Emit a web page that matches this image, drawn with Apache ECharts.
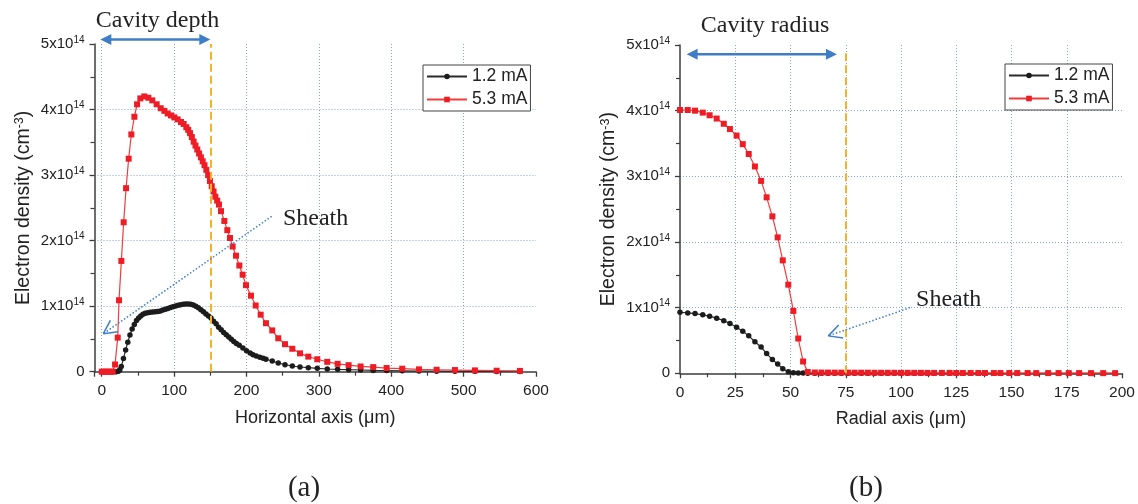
<!DOCTYPE html>
<html>
<head>
<meta charset="utf-8">
<script src="https://cdn.jsdelivr.net/npm/echarts@6/dist/echarts.min.js"></script>
<style>
  html, body { margin: 0; padding: 0; background: #fff; }
  #chart { width: 1138px; height: 504px; }
</style>
</head>
<body>
<div id="chart"></div>
<script>
// Electron density profiles, values in units of 1e14 cm^-3

// (a) along the horizontal axis (µm)
const axialX_53 = [0, 3, 6, 9, 12, 15, 18.4, 22.1, 23.9, 27.1, 30.3, 33.6, 37.2, 40.9, 45.1, 48.8,
  53.3, 58.8, 64.4, 69.9, 75.9, 81.5, 86.5, 91.1, 95.7, 100.3, 104.9, 109.5, 113.2, 116.9,
  119.5, 122, 124.5, 127, 129.5, 132, 134.5, 137, 139.5, 142, 144.5, 147, 149.5, 152, 154.5, 157, 159.5, 162,
  164.8, 169.4, 173.5, 177.2, 180.9, 185.5, 190.1, 194.7, 199.3, 206.2, 212.7, 219.6, 226.9, 235.6, 243.9,
  253.2, 263.3, 273.9, 285.4, 297.8, 311.6, 325.9, 341.1, 357.7, 375.1, 393.6, 415.2, 438.3, 462.7,
  488, 515.6, 545.6, 577.8];
const axialN_53 = [0, 0, 0, 0, 0, 0, 0.11, 0.52, 1.09, 1.69, 2.28, 2.80, 3.25, 3.62, 3.89, 4.08,
  4.17, 4.20, 4.18, 4.14, 4.08, 4.02, 3.98, 3.94, 3.91, 3.88, 3.85, 3.81, 3.78, 3.73,
  3.69, 3.64, 3.58, 3.51, 3.45, 3.39, 3.33, 3.27, 3.21, 3.15, 3.08, 3.00, 2.91, 2.83, 2.75, 2.67, 2.61, 2.55,
  2.45, 2.30, 2.16, 2.04, 1.91, 1.77, 1.62, 1.48, 1.32, 1.16, 1.01, 0.87, 0.74, 0.63, 0.51,
  0.42, 0.35, 0.28, 0.23, 0.19, 0.15, 0.12, 0.10, 0.08, 0.07, 0.056, 0.046, 0.036, 0.03,
  0.025, 0.02, 0.015, 0.012];

const axialX_12 = [0, 5, 10, 15, 20, 23, 25, 27, 30, 33, 36, 39, 42, 45, 48,
  51, 54, 57, 60, 63.5, 67, 70.5, 74, 77.5, 81, 84.5, 88, 91.5, 95, 98.5, 102, 105.5, 109, 112.5, 116,
  119.5, 123, 126.5, 130, 133.5, 137, 140.5, 144, 147.5, 151, 154.5, 158, 161.5, 165, 168.5, 172, 175.5,
  179, 182.5, 186, 190, 195, 200, 205, 209, 213.5, 218.5, 223, 226.9, 235.6,
  243.9, 253.2, 263.3, 273.9, 285.4, 297.8, 311.6, 325.9, 341.1, 357.7,
  375.1, 393.6, 415.2, 438.3, 462.7, 488, 515.6, 545.6, 577.8];
const axialN_12 = [0, 0, 0, 0, 0, 0.005, 0.03, 0.08, 0.2, 0.33, 0.45, 0.56, 0.65, 0.72, 0.78,
  0.82, 0.85, 0.875, 0.89, 0.9, 0.906, 0.91, 0.914, 0.92, 0.928, 0.94, 0.952, 0.965, 0.978, 0.99, 1.003, 1.013, 1.022, 1.03, 1.034,
  1.034, 1.028, 1.018, 1.0, 0.975, 0.947, 0.914, 0.882, 0.85, 0.82, 0.77, 0.73, 0.68, 0.64, 0.60, 0.565, 0.53,
  0.495, 0.46, 0.43, 0.405, 0.36, 0.32, 0.285, 0.26, 0.24, 0.22, 0.205, 0.19, 0.163,
  0.133, 0.107, 0.087, 0.072, 0.061, 0.051, 0.041, 0.036, 0.031, 0.026,
  0.02, 0.017, 0.013, 0.01, 0.008, 0.006, 0.005, 0.004, 0.003];

// (b) along the radial axis (µm), both currents on the same mesh
const radialX = [0, 3.5, 6.8, 10.3, 13.4, 16.6, 19.8, 22.6, 25.6, 28.4, 31.1, 33.9, 36.7, 39.2, 41.8, 44.2,
  46.5, 49.0, 51.3, 53.5, 55.7, 57.8, 61, 64, 67, 70, 73, 76, 79, 82, 85, 88, 91, 94, 97, 100, 103, 106,
  109, 112, 115, 118.5, 122, 125, 128, 131.5, 135, 138, 142, 145, 149, 152.6, 157.3, 161.2, 166.6,
  171.3, 175.9, 180.6, 186, 191.5, 196.9];
const radialN_53 = [4.01, 4.01, 4.00, 3.97, 3.93, 3.88, 3.80, 3.72, 3.62, 3.49, 3.34, 3.15, 2.93, 2.68, 2.39, 2.07,
  1.72, 1.35, 0.95, 0.53, 0.18, 0.02, 0.012, 0.011, 0.011, 0.01, 0.01, 0.01, 0.009, 0.009, 0.009, 0.008, 0.008, 0.008,
  0.008, 0.007, 0.007, 0.007, 0.007, 0.006, 0.006, 0.006, 0.006, 0.005, 0.005, 0.005, 0.005, 0.005, 0.004, 0.004,
  0.004, 0.004, 0.004, 0.003, 0.003, 0.003, 0.003, 0.003, 0.002, 0.002, 0.002];
const radialN_12 = [0.93, 0.92, 0.91, 0.89, 0.87, 0.84, 0.80, 0.76, 0.70, 0.64, 0.57, 0.48, 0.40, 0.30, 0.21, 0.14,
  0.07, 0.025, 0.01, 0.005, 0.003, 0.002, 0, 0, 0, 0, 0, 0, 0, 0, 0, 0, 0, 0,
  0, 0, 0, 0, 0, 0, 0, 0, 0, 0, 0, 0, 0, 0, 0, 0,
  0, 0, 0, 0, 0, 0, 0, 0, 0, 0, 0];

const seriesNames = ['1.2 mA', '5.3 mA'];
const densityExponent = 14;

// Annotations, in data coordinates of each panel
const cavityDepthSpan = [-2, 150];
const cavityDepthLevel = 5.07;
const cavityRadiusSpan = [3, 71];
const cavityRadiusLevel = 4.86;
const cavityDepthEdge = 150;
const cavityRadiusEdge = 75;

const pairs = (xs, ys) => xs.map((x, i) => [x, ys[i]]);

const SANS = '"Liberation Sans", Arial, sans-serif';
const SERIF = '"Liberation Serif", "Times New Roman", serif';
const AXIS_COLOR = '#3c3c3c';
const GRID_COLOR = '#8ba3d3';
const ARROW_BLUE = '#3f7dc8';
const EDGE_GOLD = '#f5b324';

function axisStyle(extra) {
  return Object.assign({
    type: 'value',
    nameLocation: 'middle',
    nameTextStyle: {
      fontFamily: SANS, fontSize: 18, color: '#222',
      rich: { s: { fontFamily: SANS, fontSize: 12, verticalAlign: 'top', lineHeight: 13, color: '#222' } }
    },
    axisLine: { show: true, onZero: false, lineStyle: { color: AXIS_COLOR, width: 1.5 } },
    axisTick: { show: true, inside: false, length: 5, lineStyle: { color: AXIS_COLOR, width: 1.3 } },
    minorTick: { show: true, splitNumber: 2, length: 4, lineStyle: { color: AXIS_COLOR, width: 1.2 } },
    splitLine: { show: true, showMinLine: false, showMaxLine: false,
      lineStyle: { color: GRID_COLOR, type: [1, 2], width: 1 } },
    minorSplitLine: { show: false },
    axisLabel: { fontFamily: SANS, fontSize: 15.5, color: '#222', margin: 11 }
  }, extra);
}

function densityAxis(gridIndex) {
  return axisStyle({
    gridIndex,
    min: 0, max: 5, interval: 1,
    name: 'Electron density (cm{s|-3})',
    nameGap: 61,
    nameTextStyle: {
      fontFamily: SANS, fontSize: 19.5, color: '#222',
      rich: { s: { fontFamily: SANS, fontSize: 12.5, verticalAlign: 'top', lineHeight: 13, color: '#222' } }
    },
    axisLabel: {
      fontFamily: SANS, fontSize: 15, color: '#222', margin: 10, lineHeight: 18,
      formatter: v => (v === 0 ? '0' : v + 'x10{s|' + densityExponent + '}'),
      rich: { s: { fontFamily: SANS, fontSize: 10, verticalAlign: 'top', lineHeight: 10, color: '#222' } }
    }
  });
}

function lineSeries(name, xi, yi, data, isHigh) {
  return {
    name, type: 'line', xAxisIndex: xi, yAxisIndex: yi, data,
    symbol: isHigh ? 'rect' : 'circle',
    symbolSize: isHigh ? 6 : 5.5,
    showSymbol: true,
    showAllSymbol: true,
    clip: false,
    itemStyle: { color: isHigh ? '#ee1d25' : '#1c1c1c' },
    lineStyle: { color: isHigh ? '#f23b3b' : '#2b2b2b', width: 1.2 },
    emphasis: { disabled: true },
    z: isHigh ? 3 : 2
  };
}

function edgeLine(x, top) {
  return {
    silent: true,
    symbol: ['none', 'none'],
    label: { show: false },
    lineStyle: { color: EDGE_GOLD, type: [8, 4], width: 2 },
    data: [[{ coord: [x, 0] }, { coord: [x, top] }]],
    z: 10
  };
}

const legendCommon = {
  orient: 'vertical',
  data: seriesNames,
  itemWidth: 40,
  itemHeight: 7,
  itemGap: 4,
  padding: [2, 3, 2, 3],
  borderColor: '#444',
  borderWidth: 1,
  borderRadius: 0,
  backgroundColor: '#fff',
  selectedMode: false,
  textStyle: { fontFamily: SANS, fontSize: 17.5, color: '#222', lineHeight: 19 }
};

const chart = echarts.init(document.getElementById('chart'), null, { renderer: 'canvas' });

chart.setOption({
  animation: false,
  backgroundColor: '#fff',
  textStyle: { fontFamily: SANS },
  grid: [
    { left: 94.5, right: 602, top: 44, bottom: 132.3, outerBoundsMode: 'none' },
    { left: 680, right: 16, top: 45, bottom: 130.7, outerBoundsMode: 'none' }
  ],
  xAxis: [
    axisStyle({
      gridIndex: 0, min: -10, max: 600, minInterval: 100, maxInterval: 100,
      name: 'Horizontal axis (\u03bcm)', nameGap: 37,
      axisLabel: { fontFamily: SANS, fontSize: 15.5, color: '#222', margin: 11,
        formatter: v => (v < 0 ? '' : String(v)) }
    }),
    axisStyle({
      gridIndex: 1, min: 0, max: 200, interval: 25,
      name: 'Radial axis (\u03bcm)', nameGap: 37
    })
  ],
  yAxis: [densityAxis(0), densityAxis(1)],
  legend: [
    Object.assign({ left: 423, top: 65 }, legendCommon),
    Object.assign({ left: 1005, top: 64 }, legendCommon)
  ],
  series: [
    lineSeries(seriesNames[0], 0, 0, pairs(axialX_12, axialN_12), false),
    Object.assign(lineSeries(seriesNames[1], 0, 0, pairs(axialX_53, axialN_53), true),
      { markLine: edgeLine(cavityDepthEdge, 5) }),
    lineSeries(seriesNames[0], 1, 1, pairs(radialX, radialN_12), false),
    Object.assign(lineSeries(seriesNames[1], 1, 1, pairs(radialX, radialN_53), true),
      { markLine: edgeLine(cavityRadiusEdge, 4.9) })
  ]
});

// Annotation shapes placed through each panel's own scales
const toPx = (g, p) => chart.convertToPixel({ gridIndex: g }, p);
const shapes = [];

function spanArrow(g, span, level) {
  const a = toPx(g, [span[0], level]);
  const b = toPx(g, [span[1], level]);
  const L = 11, W = 5.5;
  shapes.push({ type: 'line', z: 100,
    shape: { x1: a[0] + L - 1, y1: a[1], x2: b[0] - L + 1, y2: b[1] },
    style: { stroke: ARROW_BLUE, lineWidth: 2.5 } });
  shapes.push({ type: 'polygon', z: 100,
    shape: { points: [[a[0], a[1]], [a[0] + L, a[1] - W], [a[0] + L, a[1] + W]] },
    style: { fill: ARROW_BLUE } });
  shapes.push({ type: 'polygon', z: 100,
    shape: { points: [[b[0], b[1]], [b[0] - L, b[1] - W], [b[0] - L, b[1] + W]] },
    style: { fill: ARROW_BLUE } });
}

function pointerArrow(g, from, to) {
  const t = toPx(g, from);
  const h = toPx(g, to);
  const ang = Math.atan2(t[1] - h[1], t[0] - h[0]);
  const arm = 15, spread = 27 * Math.PI / 180;
  shapes.push({ type: 'line', z: 100,
    shape: { x1: t[0], y1: t[1], x2: h[0], y2: h[1] },
    style: { stroke: ARROW_BLUE, lineWidth: 1.5, lineDash: [1.5, 2] } });
  [-1, 1].forEach(s => {
    const a = ang + s * spread;
    shapes.push({ type: 'line', z: 100,
      shape: { x1: h[0], y1: h[1], x2: h[0] + arm * Math.cos(a), y2: h[1] + arm * Math.sin(a) },
      style: { stroke: ARROW_BLUE, lineWidth: 1.5 } });
  });
}

function note(g, p, text, align) {
  const q = toPx(g, p);
  shapes.push({ type: 'text', z: 100, x: q[0], y: q[1],
    style: { text, fontFamily: SERIF, fontSize: 24, fill: '#222', align: align, verticalAlign: 'middle' } });
}

spanArrow(0, cavityDepthSpan, cavityDepthLevel);
spanArrow(1, cavityRadiusSpan, cavityRadiusLevel);
note(0, [77, 5.35], 'Cavity depth', 'center');
note(1, [38.5, 5.3], 'Cavity radius', 'center');

pointerArrow(0, [234.8, 2.37], [2.2, 0.58]);
note(0, [250.4, 2.34], 'Sheath', 'left');
pointerArrow(1, [104.1, 1.0], [67.1, 0.57]);
note(1, [106.8, 1.12], 'Sheath', 'left');

// Panel captions
shapes.push({ type: 'text', x: 304, y: 488,
  style: { text: '(a)', fontFamily: SERIF, fontSize: 29, fill: '#222', align: 'center', verticalAlign: 'middle' } });
shapes.push({ type: 'text', x: 866, y: 488,
  style: { text: '(b)', fontFamily: SERIF, fontSize: 29, fill: '#222', align: 'center', verticalAlign: 'middle' } });

chart.setOption({ graphic: shapes });
</script>
</body>
</html>
